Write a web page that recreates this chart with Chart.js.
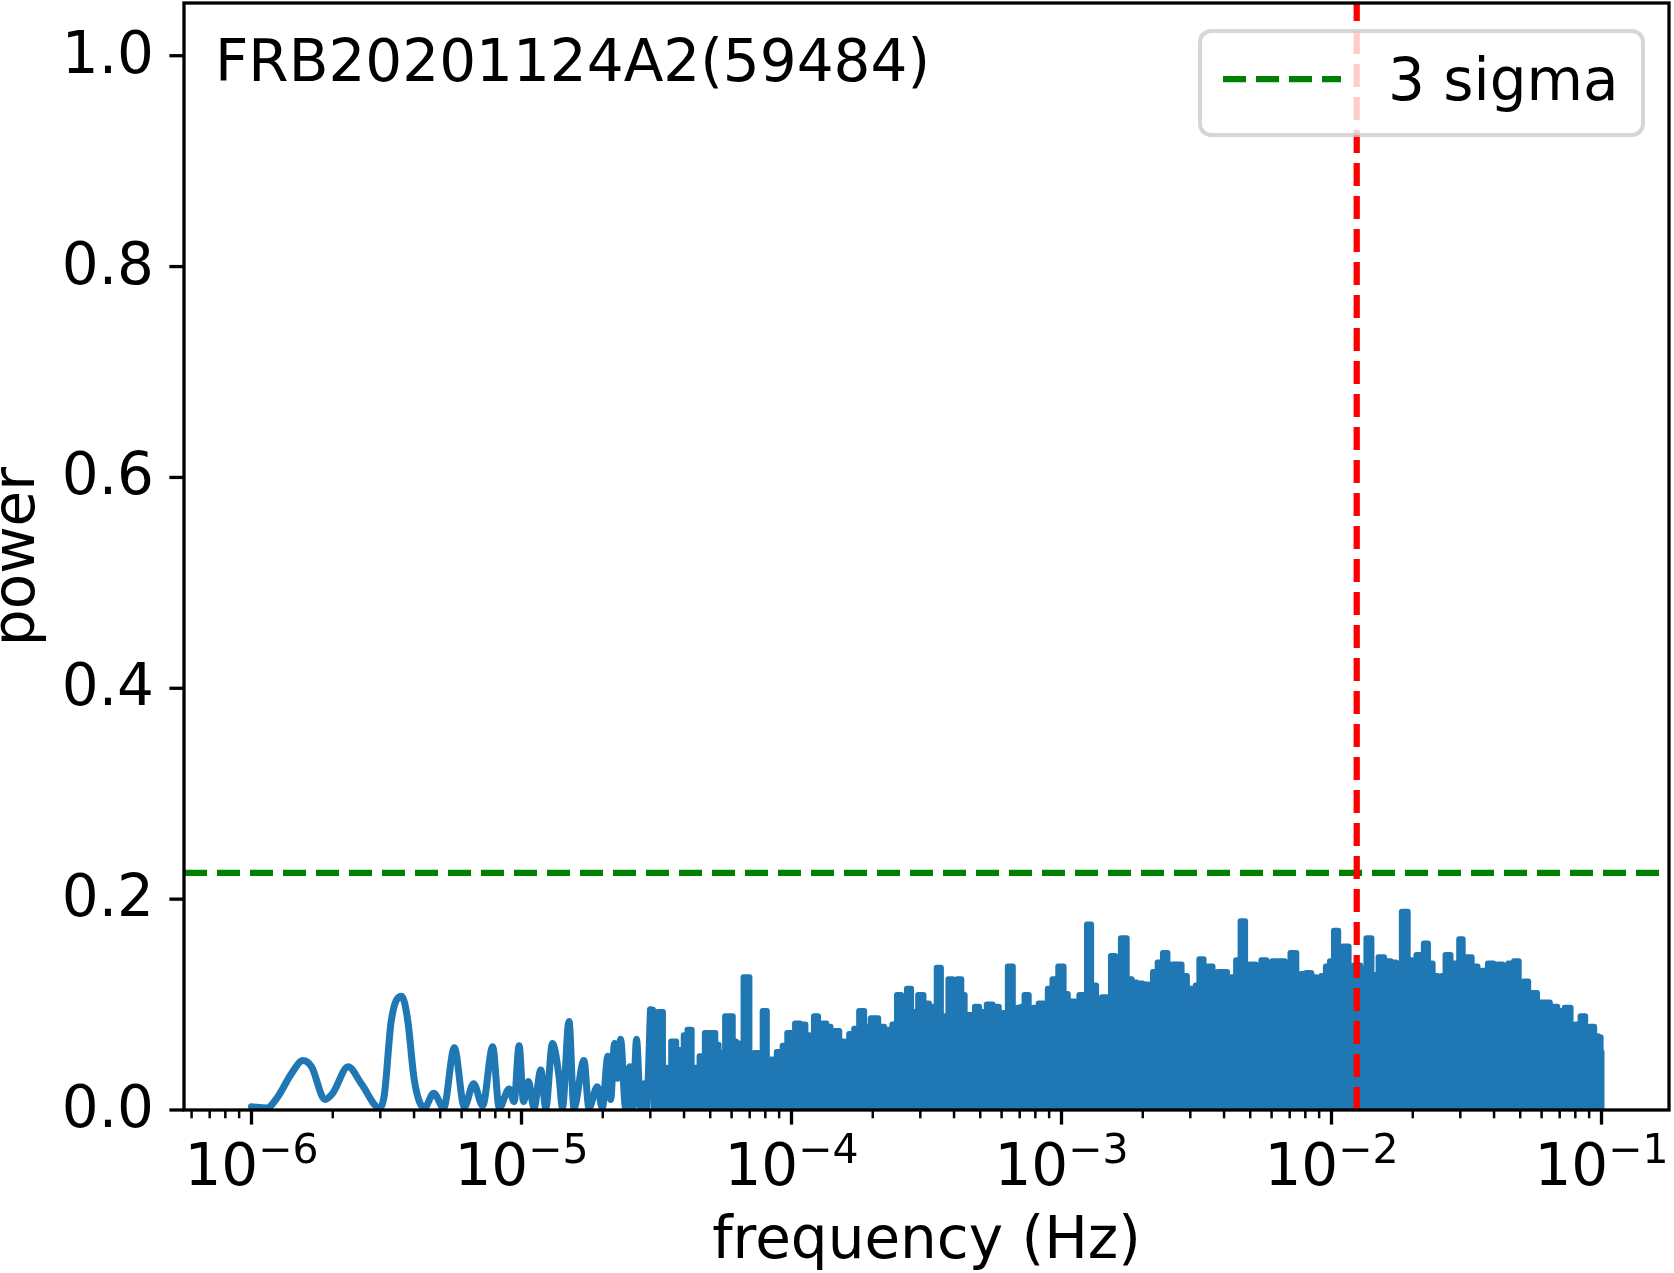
<!DOCTYPE html>
<html>
<head>
<meta charset="utf-8">
<script src="https://cdn.jsdelivr.net/npm/chart.js@4.4.1/dist/chart.umd.min.js"></script>
<style>
  html, body { margin: 0; padding: 0; background: #fff; }
  canvas { display: block; }
</style>
</head>
<body>
<canvas id="myChart" width="1674" height="1273"></canvas>
<script>
// periodogram
// low frequency part: separate peaks, drawn as a plain line
var lowFreqHz = [1.00e-6, 1.14e-6, 1.24e-6, 1.41e-6, 1.55e-6, 1.67e-6, 1.87e-6, 2.00e-6, 2.28e-6, 2.55e-6,
  2.98e-6, 3.11e-6, 3.29e-6, 3.60e-6, 3.79e-6, 4.01e-6, 4.37e-6, 4.73e-6, 5.15e-6, 5.64e-6,
  6.14e-6, 6.65e-6, 7.18e-6, 7.82e-6, 8.27e-6, 9.00e-6, 9.39e-6, 9.80e-6, 1.017e-5, 1.061e-5,
  1.113e-5, 1.179e-5, 1.230e-5, 1.302e-5, 1.377e-5, 1.418e-5, 1.499e-5, 1.564e-5, 1.703e-5, 1.777e-5,
  1.909e-5, 1.992e-5, 2.089e-5, 2.138e-5, 2.212e-5, 2.269e-5, 2.328e-5, 2.429e-5, 2.519e-5, 2.588e-5,
  2.667e-5, 2.759e-5, 2.838e-5, 2.904e-5, 3.004e-5];
var lowPower = [0.003, 0.002, 0.011, 0.035, 0.047, 0.041, 0.010, 0.016, 0.041, 0.025,
  0.002, 0.016, 0.084, 0.108, 0.085, 0.028, 0.002, 0.016, 0.002, 0.059,
  0.003, 0.025, 0.004, 0.060, 0.002, 0.020, 0.008, 0.061, 0.008, 0.027,
  0.002, 0.038, 0.002, 0.063, 0.032, 0.002, 0.084, 0.002, 0.047, 0.002,
  0.022, 0.002, 0.051, 0.010, 0.063, 0.030, 0.067, 0.002, 0.041, 0.002,
  0.067, 0.002, 0.025, 0.002, 0.095];

// high frequency part: so dense it prints as a filled band, this is its top edge
var denseFreqHz = [3.004e-5, 3.134e-5, 3.271e-5, 3.413e-5, 3.510e-5, 3.662e-5, 3.821e-5, 3.934e-5, 4.046e-5, 4.196e-5,
  4.341e-5, 4.469e-5, 4.663e-5,
  4.715e-5, 4.837e-5, 5.147e-5, 5.297e-5, 5.448e-5, 5.589e-5, 5.768e-5, 6.019e-5, 6.101e-5, 6.349e-5,
  6.458e-5, 6.837e-5, 7.134e-5, 7.444e-5, 7.656e-5, 7.989e-5, 8.216e-5, 8.574e-5, 9.077e-5, 9.471e-5,
  9.824e-5, 1.016e-4, 1.046e-4, 1.107e-4, 1.145e-4, 1.189e-4, 1.233e-4, 1.276e-4, 1.323e-4, 1.369e-4,
  1.421e-4, 1.471e-4, 1.535e-4, 1.601e-4, 1.671e-4, 1.743e-4, 1.819e-4, 1.898e-4, 2.036e-4, 2.156e-4,
  2.250e-4, 2.313e-4, 2.414e-4, 2.504e-4, 2.591e-4, 2.628e-4, 2.726e-4, 2.821e-4, 2.886e-4, 3.004e-4,
  3.161e-4, 3.298e-4, 3.392e-4, 3.510e-4, 3.641e-4, 3.748e-4, 3.878e-4, 4.022e-4, 4.196e-4, 4.315e-4,
  4.442e-4, 4.699e-4, 4.861e-4, 5.047e-4, 5.190e-4, 5.384e-4, 5.734e-4, 5.983e-4, 6.207e-4, 6.449e-4,
  6.758e-4, 6.992e-4, 7.191e-4, 7.402e-4, 7.723e-4, 8.059e-4, 8.410e-4, 8.774e-4, 9.024e-4, 9.496e-4,
  9.966e-4, 1.040e-3, 1.070e-3, 1.100e-3, 1.148e-3, 1.182e-3, 1.226e-3, 1.260e-3, 1.315e-3, 1.372e-3,
  1.453e-3, 1.503e-3, 1.546e-3, 1.613e-3, 1.707e-3, 1.781e-3, 1.859e-3, 1.940e-3, 2.054e-3, 2.143e-3,
  2.223e-3, 2.319e-3, 2.434e-3, 2.503e-3, 2.635e-3, 2.726e-3, 2.844e-3, 2.986e-3, 3.097e-3, 3.186e-3,
  3.296e-3, 3.422e-3, 3.549e-3, 3.703e-3, 3.887e-3, 4.032e-3, 4.171e-3, 4.353e-3, 4.515e-3, 4.699e-3,
  4.875e-3, 5.086e-3, 5.384e-3, 5.618e-3, 5.861e-3, 6.207e-3, 6.566e-3, 6.850e-3, 7.252e-3, 7.567e-3,
  7.895e-3, 8.239e-3, 8.596e-3, 8.969e-3, 9.359e-3, 9.707e-3, 1.004e-2, 1.039e-2, 1.079e-2, 1.131e-2,
  1.184e-2, 1.242e-2, 1.315e-2, 1.380e-2, 1.432e-2, 1.473e-2, 1.516e-2, 1.617e-2, 1.698e-2, 1.771e-2,
  1.875e-2, 1.956e-2, 2.029e-2, 2.099e-2, 2.163e-2, 2.234e-2, 2.319e-2, 2.420e-2, 2.525e-2, 2.597e-2,
  2.693e-2, 2.827e-2, 2.925e-2, 3.019e-2, 3.104e-2, 3.212e-2, 3.401e-2, 3.549e-2, 3.681e-2, 3.916e-2,
  4.042e-2, 4.207e-2, 4.390e-2, 4.643e-2, 4.845e-2, 5.029e-2, 5.274e-2, 5.430e-2, 5.632e-2, 5.912e-2,
  6.254e-2, 6.620e-2, 7.103e-2, 7.519e-2, 7.847e-2, 8.188e-2, 8.545e-2, 8.862e-2, 9.224e-2, 9.568e-2,
  9.849e-2, 0.1, 0.1];
var densePower = [0.095, 0.015, 0.093, 0.040, 0.018, 0.065, 0.057, 0.020, 0.071, 0.076,
  0.025, 0.040, 0.051,
  0.051, 0.073, 0.073, 0.062, 0.054, 0.053, 0.089, 0.089, 0.065, 0.063,
  0.051, 0.126, 0.053, 0.054, 0.051, 0.094, 0.041, 0.048, 0.055, 0.061,
  0.073, 0.062, 0.082, 0.081, 0.071, 0.063, 0.089, 0.058, 0.082, 0.079,
  0.065, 0.075, 0.065, 0.057, 0.072, 0.077, 0.094, 0.079, 0.087, 0.079,
  0.076, 0.065, 0.081, 0.109, 0.085, 0.101, 0.115, 0.066, 0.093, 0.109,
  0.101, 0.098, 0.097, 0.135, 0.087, 0.089, 0.124, 0.090, 0.124, 0.109,
  0.090, 0.090, 0.098, 0.093, 0.087, 0.100, 0.098, 0.091, 0.092, 0.136,
  0.085, 0.097, 0.098, 0.109, 0.087, 0.097, 0.101, 0.098, 0.115, 0.124,
  0.136, 0.110, 0.097, 0.103, 0.092, 0.109, 0.100, 0.176, 0.118, 0.105,
  0.107, 0.100, 0.146, 0.127, 0.163, 0.124, 0.121, 0.120, 0.119, 0.112,
  0.131, 0.140, 0.149, 0.124, 0.138, 0.138, 0.127, 0.115, 0.103, 0.118,
  0.143, 0.120, 0.136, 0.124, 0.131, 0.131, 0.124, 0.126, 0.142, 0.179,
  0.118, 0.138, 0.137, 0.142, 0.135, 0.141, 0.141, 0.139, 0.149, 0.122,
  0.129, 0.130, 0.126, 0.120, 0.127, 0.136, 0.141, 0.170, 0.123, 0.155,
  0.136, 0.137, 0.133, 0.163, 0.128, 0.115, 0.145, 0.141, 0.140, 0.135,
  0.188, 0.142, 0.133, 0.147, 0.136, 0.158, 0.139, 0.127, 0.125, 0.127,
  0.147, 0.139, 0.133, 0.162, 0.131, 0.145, 0.136, 0.124, 0.132, 0.139,
  0.131, 0.138, 0.132, 0.139, 0.141, 0.120, 0.122, 0.107, 0.111, 0.102,
  0.102, 0.098, 0.094, 0.097, 0.080, 0.081, 0.089, 0.078, 0.079, 0.070,
  0.069, 0.055, 0];

var sigma3Level = 0.225;      // green dashed line
var peakFreqHz = 0.0124;      // red dashed line
var xRange = [Math.pow(10, -6.25), Math.pow(10, -0.75)];
var yRange = [0, 1.05];

var xMajorTicks = [1e-6, 1e-5, 1e-4, 1e-3, 1e-2, 1e-1];
var xTickExponents = ['-6', '-5', '-4', '-3', '-2', '-1'];
var yTicks = [0, 0.2, 0.4, 0.6, 0.8, 1.0];
var yTickLabels = ['0.0', '0.2', '0.4', '0.6', '0.8', '1.0'];

var titleText = 'FRB20201124A2(59484)';
var xLabel = 'frequency (Hz)';
var yLabel = 'power';

var BLUE = '#1f77b4';
var FONT = '"DejaVu Sans", sans-serif';

function pairs(xs, ys) {
  return xs.map(function (x, i) { return { x: x, y: ys[i] }; });
}

// axes frame, ticks, labels, title and legend drawn like matplotlib
const mplAxes = {
  id: 'mplAxes',
  afterDatasetsDraw(chart) {
    const ctx = chart.ctx;
    const a = chart.chartArea;
    const xs = chart.scales.x, ys = chart.scales.y;
    ctx.save();
    ctx.strokeStyle = '#000';
    ctx.fillStyle = '#000';
    ctx.lineCap = 'butt';

    function seg(x1, y1, x2, y2) {
      ctx.beginPath(); ctx.moveTo(x1, y1); ctx.lineTo(x2, y2); ctx.stroke();
    }

    // y ticks
    ctx.lineWidth = 3.3;
    ctx.font = '58px ' + FONT;
    ctx.textAlign = 'right';
    ctx.textBaseline = 'middle';
    yTicks.forEach(function (v, i) {
      const y = ys.getPixelForValue(v);
      seg(a.left - 14.6, y, a.left, y);
      ctx.fillText(yTickLabels[i], a.left - 30, y + 2);
    });

    // x minor ticks
    ctx.lineWidth = 2.5;
    for (let e = -7; e <= 0; e++) {
      for (let k = 2; k <= 9; k++) {
        const v = k * Math.pow(10, e);
        if (v < xRange[0] || v > xRange[1]) continue;
        const x = xs.getPixelForValue(v);
        seg(x, a.bottom, x, a.bottom + 8.3);
      }
    }
    // x major ticks + labels 10^n
    ctx.lineWidth = 3.3;
    ctx.textAlign = 'left';
    ctx.textBaseline = 'alphabetic';
    xMajorTicks.forEach(function (v, i) {
      const x = xs.getPixelForValue(v);
      seg(x, a.bottom, x, a.bottom + 14.6);
      const exp = xTickExponents[i].replace('-', '\u2212');
      ctx.font = '58px ' + FONT;
      const w1 = ctx.measureText('10').width;
      ctx.font = '41px ' + FONT;
      const w2 = ctx.measureText(exp).width;
      const x0 = x - (w1 + w2) / 2;
      ctx.font = '58px ' + FONT;
      ctx.fillText('10', x0, a.bottom + 75);
      ctx.font = '41px ' + FONT;
      ctx.fillText(exp, x0 + w1, a.bottom + 53);
    });

    // spines
    ctx.lineWidth = 3.3;
    ctx.strokeRect(a.left, a.top, a.right - a.left, a.bottom - a.top);

    // axis labels
    ctx.font = '58px ' + FONT;
    ctx.textAlign = 'center';
    ctx.fillText(xLabel, (a.left + a.right) / 2, a.bottom + 148);
    ctx.save();
    ctx.translate(34, (a.top + a.bottom) / 2);
    ctx.rotate(-Math.PI / 2);
    ctx.fillText(yLabel, 0, 0);
    ctx.restore();

    // text in the corner
    ctx.textAlign = 'left';
    ctx.fillText(titleText, a.left + 31, a.top + 78);

    // legend
    const lx = a.right - 26 - 443, ly = a.top + 28, lw = 443, lh = 104;
    ctx.beginPath();
    ctx.roundRect(lx, ly, lw, lh, 11);
    ctx.fillStyle = 'rgba(255,255,255,0.8)';
    ctx.fill();
    ctx.lineWidth = 4;
    ctx.strokeStyle = 'rgba(204,204,204,0.8)';
    ctx.stroke();
    const sig = chart.data.datasets[1];
    ctx.strokeStyle = sig.borderColor;
    ctx.lineWidth = sig.borderWidth;
    ctx.setLineDash(sig.borderDash);
    seg(lx + 23, ly + 48, lx + 141, ly + 48);
    ctx.setLineDash([]);
    ctx.fillStyle = '#000';
    ctx.font = '58px ' + FONT;
    ctx.fillText(sig.label, lx + 188, ly + 69);
    ctx.restore();
  }
};

const ctx = document.getElementById('myChart').getContext('2d');
const myChart = new Chart(ctx, {
  type: 'scatter',
  data: {
    datasets: [
      {
        label: 'peak',
        data: [{ x: peakFreqHz, y: yRange[0] }, { x: peakFreqHz, y: yRange[1] }],
        showLine: true,
        borderColor: '#ff0000',
        borderWidth: 6.25,
        borderDash: [23, 10],
        pointRadius: 0,
        order: 1
      },
      {
        label: '3 sigma',
        data: [{ x: xRange[0], y: sigma3Level }, { x: xRange[1], y: sigma3Level }],
        showLine: true,
        borderColor: '#008000',
        borderWidth: 6.25,
        borderDash: [23, 10],
        pointRadius: 0,
        order: 2
      },
      {
        label: 'power low',
        data: pairs(lowFreqHz, lowPower),
        showLine: true,
        cubicInterpolationMode: 'monotone',
        borderColor: BLUE,
        borderWidth: 7,
        borderJoinStyle: 'round',
        borderCapStyle: 'round',
        pointRadius: 0,
        order: 3
      },
      {
        label: 'power high',
        data: pairs(denseFreqHz, densePower),
        showLine: true,
        stepped: 'middle',
        fill: 'origin',
        backgroundColor: BLUE,
        borderColor: BLUE,
        borderWidth: 6,
        borderJoinStyle: 'round',
        borderCapStyle: 'round',
        pointRadius: 0,
        order: 4
      }
    ]
  },
  options: {
    responsive: false,
    animation: false,
    devicePixelRatio: 1,
    layout: { padding: { left: 184, top: 3, right: 5, bottom: 163 } },
    plugins: {
      legend: { display: false },
      tooltip: { enabled: false },
      filler: { propagate: false }
    },
    scales: {
      x: {
        type: 'logarithmic',
        display: false,
        min: xRange[0],
        max: xRange[1]
      },
      y: {
        type: 'linear',
        display: false,
        min: yRange[0],
        max: yRange[1]
      }
    }
  },
  plugins: [mplAxes]
});
</script>
</body>
</html>
